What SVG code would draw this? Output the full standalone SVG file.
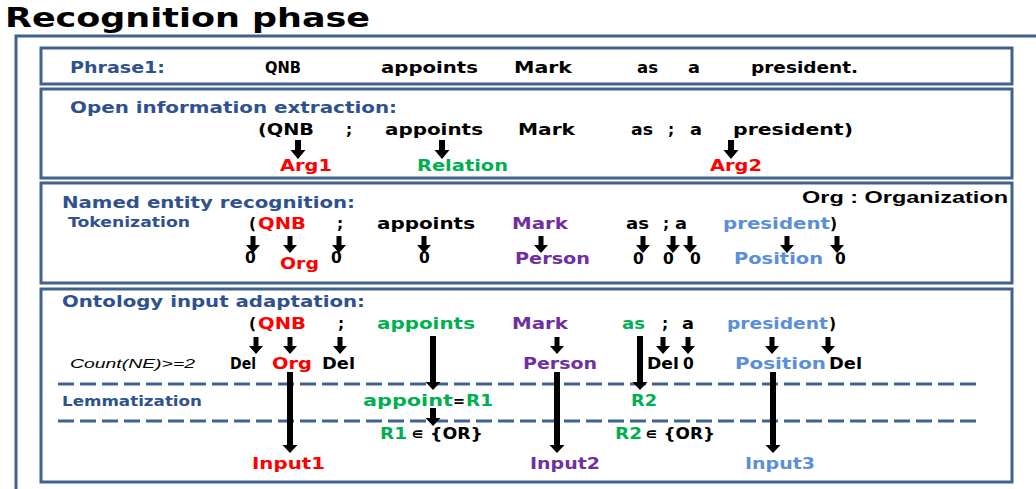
<svg xmlns="http://www.w3.org/2000/svg" xmlns:xlink="http://www.w3.org/1999/xlink" width="1036" height="489" viewBox="0 0 1036 489">
<style>
text{font-family:"DejaVu Sans","Liberation Sans",sans-serif;font-weight:bold;font-size:15.5px;fill:#000}
.h{fill:#2f528f}
.r{fill:#ff0000}
.g{fill:#00b050}
.p{fill:#7030a0}
.lb{fill:#5b8fd9}
.box{fill:#fff;stroke:#41628f;stroke-width:3}
.dash{stroke:#41628f;stroke-width:3;stroke-dasharray:16 6;fill:none}
.arr{fill:#000}
</style>
<defs>
<path id="sa" d="M-2.5,0 H2.5 V9 H7 L0,17 L-7,9 H-2.5 Z"/>
<path id="ba" d="M-3,0 H3 V10 H7.5 L0,19 L-7.5,10 H-3 Z"/>
</defs>
<rect width="1036" height="489" fill="#fff"/>
<text x="5" y="27" style="font-size:26px" textLength="365" lengthAdjust="spacingAndGlyphs">Recognition phase</text>
<path d="M16,489 V36 H1036" fill="none" stroke="#41628f" stroke-width="3"/>

<g id="phrase1">
<rect class="box" x="41" y="48" width="971" height="36"/>
<text class="h" x="70" y="73" textLength="95" lengthAdjust="spacingAndGlyphs">Phrase1:</text>
<text x="265" y="73" textLength="36" lengthAdjust="spacingAndGlyphs">QNB</text>
<text x="381" y="73" textLength="97" lengthAdjust="spacingAndGlyphs">appoints</text>
<text x="514" y="73" textLength="58" lengthAdjust="spacingAndGlyphs">Mark</text>
<text x="637" y="73" textLength="21" lengthAdjust="spacingAndGlyphs">as</text>
<text x="688" y="73" textLength="12" lengthAdjust="spacingAndGlyphs">a</text>
<text x="751" y="73" textLength="107" lengthAdjust="spacingAndGlyphs">president.</text>
</g>

<g id="openie">
<rect class="box" x="41" y="89" width="971" height="89"/>
<text class="h" x="70" y="113" textLength="327" lengthAdjust="spacingAndGlyphs">Open information extraction:</text>
<text x="258" y="135" textLength="56" lengthAdjust="spacingAndGlyphs">(QNB</text>
<text x="346" y="135">;</text>
<text x="385" y="135" textLength="98" lengthAdjust="spacingAndGlyphs">appoints</text>
<text x="518" y="135" textLength="57" lengthAdjust="spacingAndGlyphs">Mark</text>
<text x="631" y="135" textLength="22" lengthAdjust="spacingAndGlyphs">as</text>
<text x="668" y="135">;</text>
<text x="690" y="135" textLength="12" lengthAdjust="spacingAndGlyphs">a</text>
<text x="733" y="135" textLength="120" lengthAdjust="spacingAndGlyphs">president)</text>
<text class="r" x="280" y="171" textLength="52" lengthAdjust="spacingAndGlyphs">Arg1</text>
<text class="g" x="417" y="171" textLength="91" lengthAdjust="spacingAndGlyphs">Relation</text>
<text class="r" x="710" y="171" textLength="52" lengthAdjust="spacingAndGlyphs">Arg2</text>
</g>

<g id="ner">
<rect class="box" x="41" y="183" width="971" height="100"/>
<text class="h" x="62" y="208" textLength="293" lengthAdjust="spacingAndGlyphs">Named entity recognition:</text>
<text class="h" x="68" y="227" style="font-size:14px" textLength="122" lengthAdjust="spacingAndGlyphs">Tokenization</text>
<text x="802" y="203" style="font-family:'Liberation Sans',sans-serif;font-size:16px" textLength="206" lengthAdjust="spacingAndGlyphs">Org : Organization</text>
<text x="249" y="229">(</text>
<text class="r" x="258" y="229" textLength="48" lengthAdjust="spacingAndGlyphs">QNB</text>
<text x="337" y="229">;</text>
<text x="377" y="229" textLength="98" lengthAdjust="spacingAndGlyphs">appoints</text>
<text class="p" x="512" y="229" textLength="56" lengthAdjust="spacingAndGlyphs">Mark</text>
<text x="626" y="229" textLength="23" lengthAdjust="spacingAndGlyphs">as</text>
<text x="663" y="229">;</text>
<text x="675" y="229" textLength="12" lengthAdjust="spacingAndGlyphs">a</text>
<text class="lb" x="723" y="229" textLength="107" lengthAdjust="spacingAndGlyphs">president</text>
<text x="830" y="229">)</text>
<text x="245" y="263">0</text>
<text class="r" x="280" y="269" textLength="39" lengthAdjust="spacingAndGlyphs">Org</text>
<text x="331" y="263">0</text>
<text x="419" y="263">0</text>
<text class="p" x="515" y="264" textLength="75" lengthAdjust="spacingAndGlyphs">Person</text>
<text x="633" y="264">0</text>
<text x="663" y="264">0</text>
<text x="690" y="264">0</text>
<text class="lb" x="734" y="264" textLength="89" lengthAdjust="spacingAndGlyphs">Position</text>
<text x="835" y="264">0</text>
</g>

<g id="ontology">
<rect class="box" x="41" y="289" width="971" height="193"/>
<text class="h" x="62" y="307" textLength="303" lengthAdjust="spacingAndGlyphs">Ontology input adaptation:</text>
<text x="249" y="329">(</text>
<text class="r" x="258" y="329" textLength="48" lengthAdjust="spacingAndGlyphs">QNB</text>
<text x="338" y="329">;</text>
<text class="g" x="377" y="329" textLength="98" lengthAdjust="spacingAndGlyphs">appoints</text>
<text class="p" x="512" y="329" textLength="56" lengthAdjust="spacingAndGlyphs">Mark</text>
<text class="g" x="622" y="329" textLength="23" lengthAdjust="spacingAndGlyphs">as</text>
<text x="662" y="329">;</text>
<text x="682" y="329" textLength="12" lengthAdjust="spacingAndGlyphs">a</text>
<text class="lb" x="727" y="329" textLength="101" lengthAdjust="spacingAndGlyphs">president</text>
<text x="829" y="329">)</text>
<text x="70" y="368" style="font-family:'Liberation Sans',sans-serif;font-weight:normal;font-style:italic;font-size:13px" textLength="125" lengthAdjust="spacingAndGlyphs">Count(NE)&gt;=2</text>
<text x="230" y="369" textLength="26" lengthAdjust="spacingAndGlyphs">Del</text>
<text class="r" x="272" y="369" textLength="40" lengthAdjust="spacingAndGlyphs">Org</text>
<text x="322" y="369" textLength="33" lengthAdjust="spacingAndGlyphs">Del</text>
<text class="p" x="523" y="369" textLength="74" lengthAdjust="spacingAndGlyphs">Person</text>
<text x="647" y="369" textLength="32" lengthAdjust="spacingAndGlyphs">Del</text>
<text x="683" y="369">0</text>
<text class="lb" x="735" y="369" textLength="91" lengthAdjust="spacingAndGlyphs">Position</text>
<text x="829" y="369" textLength="33" lengthAdjust="spacingAndGlyphs">Del</text>
<text class="h" x="62" y="406" style="font-size:14px" textLength="140" lengthAdjust="spacingAndGlyphs">Lemmatization</text>
<text class="g" x="363" y="406" textLength="90" lengthAdjust="spacingAndGlyphs">appoint</text>
<text x="453" y="406" textLength="12" lengthAdjust="spacingAndGlyphs">=</text>
<text class="g" x="466" y="406" textLength="27" lengthAdjust="spacingAndGlyphs">R1</text>
<text class="g" x="631" y="406" textLength="26" lengthAdjust="spacingAndGlyphs">R2</text>
<text class="g" x="380" y="439" textLength="27" lengthAdjust="spacingAndGlyphs">R1</text>
<text x="411" y="439" textLength="72" lengthAdjust="spacingAndGlyphs">∊ {OR}</text>
<text class="g" x="615" y="439" textLength="27" lengthAdjust="spacingAndGlyphs">R2</text>
<text x="645" y="439" textLength="70" lengthAdjust="spacingAndGlyphs">∊ {OR}</text>
<text class="r" x="252" y="469" textLength="73" lengthAdjust="spacingAndGlyphs">Input1</text>
<text class="p" x="530" y="469" textLength="70" lengthAdjust="spacingAndGlyphs">Input2</text>
<text class="lb" x="745" y="469" textLength="70" lengthAdjust="spacingAndGlyphs">Input3</text>
<path class="dash" d="M58,384 H980"/>
<path class="dash" d="M58,421 H980"/>
</g>

<g id="connectors" class="arr">
<use xlink:href="#ba" x="298" y="140"/>
<use xlink:href="#ba" x="442" y="140"/>
<use xlink:href="#ba" x="731" y="140"/>

<use xlink:href="#sa" x="253" y="236"/>
<use xlink:href="#sa" x="290" y="236"/>
<use xlink:href="#sa" x="339" y="236"/>
<use xlink:href="#sa" x="424" y="236"/>
<use xlink:href="#sa" x="541" y="236"/>
<use xlink:href="#sa" x="643" y="236"/>
<use xlink:href="#sa" x="673" y="236"/>
<use xlink:href="#sa" x="690" y="236"/>
<use xlink:href="#sa" x="787" y="236"/>
<use xlink:href="#sa" x="837" y="236"/>

<use xlink:href="#sa" x="256" y="337"/>
<use xlink:href="#sa" x="290" y="337"/>
<use xlink:href="#sa" x="340" y="337"/>
<use xlink:href="#sa" x="557" y="337"/>
<use xlink:href="#sa" x="663" y="337"/>
<use xlink:href="#sa" x="688" y="337"/>
<use xlink:href="#sa" x="772" y="337"/>
<use xlink:href="#sa" x="828" y="337"/>

<path d="M287,372 H293 V445 H297.5 L290,453 L282.5,445 H287 Z"/>
<path d="M554,372 H560 V445 H564.5 L557,453 L549.5,445 H554 Z"/>
<path d="M770,372 H776 V445 H780.5 L773,453 L765.5,445 H770 Z"/>
<path d="M430,336 H436 V382 H440.5 L433,390 L425.5,382 H430 Z"/>
<path d="M637,336 H643 V382 H647.5 L640,390 L632.5,382 H637 Z"/>
<path d="M430,408 H436 V418 H440.5 L433,426 L425.5,418 H430 Z"/>
</g>
</svg>
